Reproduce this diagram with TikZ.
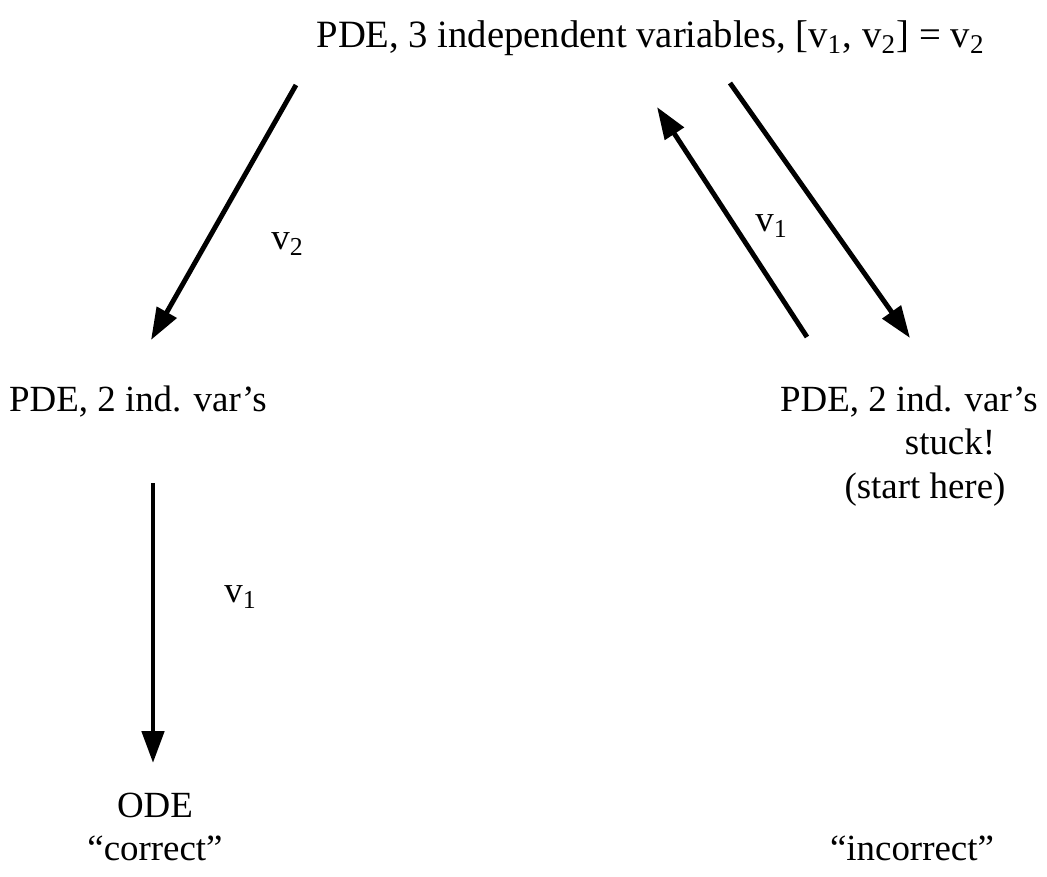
\documentclass[tikz,border=0pt]{standalone}
\usepackage{fontspec}
\setmainfont{Liberation Serif}
\usetikzlibrary{arrows.meta}
\tikzset{txt/.style={inner sep=0pt,font=\fontsize{10.5}{12}\selectfont}}
\tikzset{lbl/.style={inner sep=0pt,font=\fontsize{10.5}{12}\selectfont}}
\tikzset{arr/.style={line width=1.4pt,-{Triangle[length=0.32cm,width=0.22cm]}}}
\newcommand{\vv}[1]{v\textsubscript{#1}}

\begin{document}
\begin{tikzpicture}
\useasboundingbox (0,0) rectangle (10.47,-8.77);
\node[txt,font=\fontsize{11}{13}\selectfont] (top) at (6.51,-0.38) {PDE, 3 independent variables, [\vv1, \vv2] = \vv2};
\node[txt] (left) at (1.38,-4.02) {PDE, 2 ind. var's};
\node[txt] (right) at (9.09,-4.02) {PDE, 2 ind. var's};
\node[txt] (stuck) at (9.50,-4.42) {stuck!};
\node[txt] (start) at (9.25,-4.90) {(start here)};
\node[txt] (ode) at (1.55,-8.05) {ODE};
\node[txt] (corr) at (1.55,-8.48) {``correct''};
\node[txt] (incorr) at (9.12,-8.48) {``incorrect''};
\coordinate (a1s) at (2.96,-0.85); \coordinate (a1e) at (1.51,-3.40);
\coordinate (a2s) at (8.07,-3.37); \coordinate (a2e) at (6.57,-1.07);
\coordinate (a3s) at (7.30,-0.83); \coordinate (a3e) at (9.10,-3.38);
\coordinate (a4s) at (1.53,-4.83); \coordinate (a4e) at (1.53,-7.63);
\draw[arr] (a1s) -- (a1e);
\draw[arr] (a2s) -- (a2e);
\draw[arr] (a3s) -- (a3e);
\draw[arr] (a4s) -- (a4e);
\node[lbl] (l1) at (2.88,-2.44) {\vv2};
\node[lbl] (l2) at (7.72,-2.26) {\vv1};
\node[lbl] (l3) at (2.41,-5.97) {\vv1};
\end{tikzpicture}
\end{document}
